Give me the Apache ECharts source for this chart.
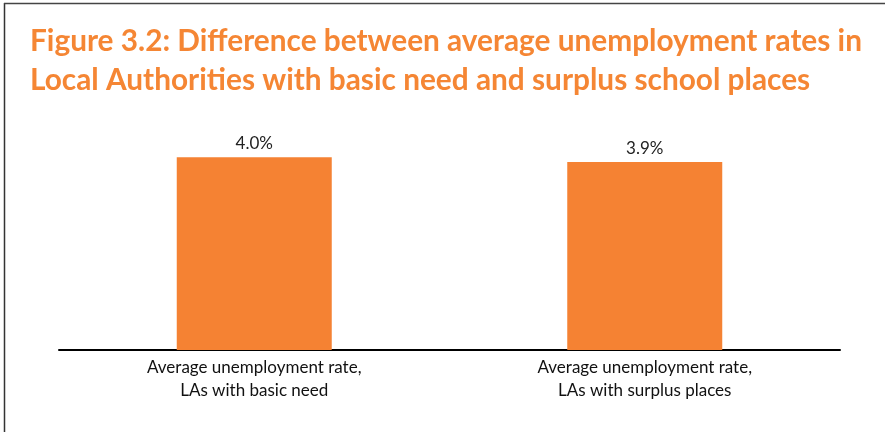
<!DOCTYPE html>
<html>
<head>
<meta charset="utf-8">
<script src="https://cdn.jsdelivr.net/npm/echarts@6/dist/echarts.min.js"></script>
<style>
  html, body { margin: 0; padding: 0; background: #fff; }
  #chart { width: 885px; height: 432px; }
</style>
</head>
<body>
<div id="chart"></div>
<script>
// Average unemployment rates (%) by school-place status
const categories = [
  'Average unemployment rate,\nLAs with basic need',
  'Average unemployment rate,\nLAs with surplus places'
];
const rates = [4.0, 3.9];

const chart = echarts.init(document.getElementById('chart'));

chart.setOption({
  animation: false,
  backgroundColor: '#ffffff',
  title: {
    text: 'Figure 3.2: Difference between average unemployment rates in\nLocal Authorities with basic need and surplus school places',
    left: 30,
    top: 22,
    padding: 0,
    textStyle: {
      fontFamily: 'Lato',
      fontWeight: 'bold',
      fontSize: 29.8,
      lineHeight: 39,
      color: '#F58634'
    }
  },
  graphic: [
    { type: 'line', shape: { x1: 4.5, y1: 3, x2: 4.5, y2: 432 }, style: { stroke: '#333', lineWidth: 1.5 } },
    { type: 'line', shape: { x1: 4, y1: 3.5, x2: 885, y2: 3.5 }, style: { stroke: '#444', lineWidth: 1.5 } }
  ],
  grid: { left: 59, right: 45, top: 109, bottom: 82 },
  xAxis: {
    type: 'category',
    data: categories,
    axisLine: { lineStyle: { color: '#000', width: 2 } },
    axisTick: { show: false },
    axisLabel: {
      interval: 0,
      margin: 6,
      fontFamily: 'Lato',
      fontSize: 17,
      lineHeight: 23,
      color: '#111'
    }
  },
  yAxis: {
    type: 'value',
    min: 0,
    max: 5,
    show: false,
    splitLine: { show: false }
  },
  series: [{
    type: 'bar',
    data: rates,
    barWidth: 155,
    itemStyle: { color: '#F58233' },
    label: {
      show: true,
      position: 'top',
      distance: 5,
      formatter: p => p.value.toFixed(1) + '%',
      fontFamily: 'Lato',
      fontSize: 17,
      color: '#222'
    }
  }]
});
</script>
</body>
</html>
